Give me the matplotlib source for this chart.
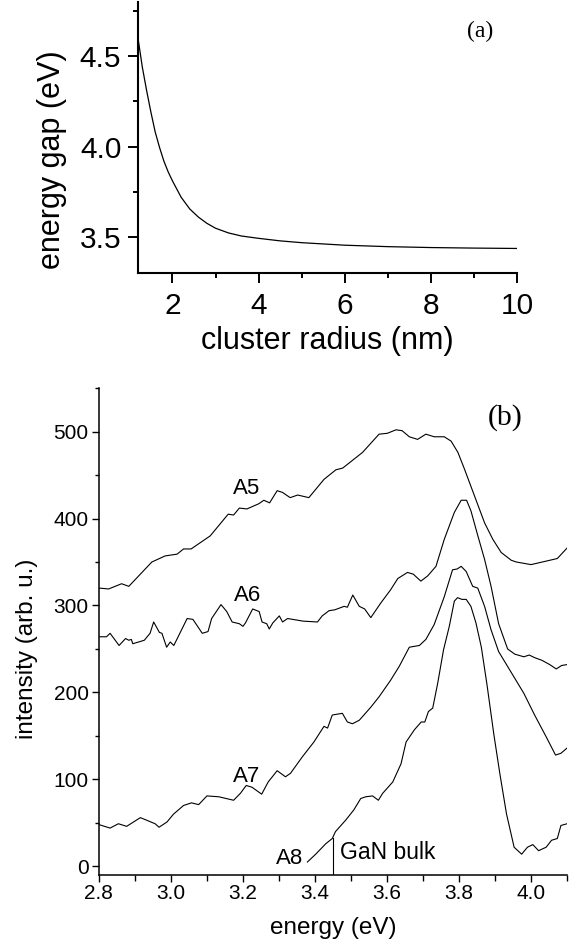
#!/usr/bin/env python3
"""
Energy gap vs. cluster radius (a) and PL spectra of samples A5-A8 (b)
"""
import matplotlib
matplotlib.use('Agg')
import matplotlib.pyplot as plt
from matplotlib.ticker import MultipleLocator, FormatStrFormatter

plt.rcParams['font.family'] = ['Liberation Sans', 'DejaVu Sans']

# (a) energy gap curve
radius = [1.2, 1.25, 1.3, 1.4, 1.5, 1.6, 1.7, 1.8, 1.9, 2.0, 2.2, 2.4, 2.6, 2.8,
          3.0, 3.3, 3.6, 4.0, 4.5, 5.0, 6.0, 7.0, 8.0, 9.0, 10.0]
gap = [4.60, 4.52, 4.44, 4.31, 4.19, 4.08, 3.995, 3.92, 3.86, 3.81, 3.72, 3.655,
       3.61, 3.575, 3.548, 3.522, 3.505, 3.492, 3.478, 3.468, 3.454, 3.446,
       3.441, 3.438, 3.436]

# (b) spectra
a5_e = [2.800, 2.827, 2.863, 2.883, 2.947, 2.984, 3.017, 3.035, 3.056, 3.109,
        3.137, 3.159, 3.174, 3.190, 3.211, 3.244, 3.258, 3.274, 3.295, 3.310,
        3.331, 3.352, 3.383, 3.425, 3.458, 3.477, 3.532, 3.578, 3.601, 3.625,
        3.642, 3.662, 3.685, 3.708, 3.731, 3.759, 3.778, 3.797, 3.815, 3.843,
        3.871, 3.894, 3.917, 3.945, 3.959, 4.000, 4.042, 4.073, 4.100]
a5_i = [320, 319, 325, 322, 350, 357, 359, 365, 365, 380,
        394, 405, 404, 412, 411, 417, 421, 418, 432, 430,
        424, 427, 424, 445, 456, 458, 476, 497, 498, 502,
        501, 494, 491, 497, 494, 494, 489, 476, 457, 426,
        395, 376, 361, 352, 350, 347, 351, 354, 366]

a6_e = [2.800, 2.821, 2.831, 2.856, 2.874, 2.883, 2.890, 2.894, 2.926, 2.942,
        2.952, 2.968, 2.975, 2.988, 2.998, 3.008, 3.045, 3.061, 3.087, 3.103,
        3.113, 3.139, 3.155, 3.170, 3.190, 3.200, 3.207, 3.227, 3.245, 3.253,
        3.266, 3.273, 3.283, 3.301, 3.310, 3.324, 3.367, 3.407, 3.420, 3.439,
        3.455, 3.481, 3.490, 3.505, 3.523, 3.538, 3.555, 3.583, 3.610, 3.630,
        3.657, 3.673, 3.694, 3.713, 3.736, 3.759, 3.787, 3.806, 3.821, 3.833,
        3.851, 3.871, 3.889, 3.910, 3.935, 3.955, 3.980, 3.995, 4.010, 4.030,
        4.052, 4.070, 4.085, 4.100]
a6_i = [264, 264, 268, 254, 262, 260, 261, 256, 260, 268,
        281, 269, 268, 252, 258, 254, 285, 284, 268, 270,
        285, 301, 293, 281, 279, 276, 280, 296, 293, 281,
        279, 273, 280, 288, 281, 285, 282, 281, 288, 294,
        295, 299, 298, 312, 299, 296, 286, 303, 318, 331,
        338, 336, 328, 334, 345, 376, 407, 421, 421, 409,
        382, 353, 322, 279, 250, 244, 241, 243, 240, 237,
        232, 227, 231, 232]

a7_e = [2.800, 2.831, 2.854, 2.877, 2.915, 2.933, 2.956, 2.967, 2.989, 3.007,
        3.035, 3.057, 3.077, 3.100, 3.133, 3.174, 3.193, 3.209, 3.225, 3.252,
        3.270, 3.295, 3.318, 3.332, 3.365, 3.397, 3.425, 3.435, 3.448, 3.476,
        3.490, 3.504, 3.523, 3.555, 3.578, 3.610, 3.634, 3.662, 3.690, 3.708,
        3.731, 3.759, 3.782, 3.795, 3.806, 3.820, 3.838, 3.852, 3.871, 3.889,
        3.910, 3.980, 4.010, 4.042, 4.068, 4.083, 4.100]
a7_i = [48, 44, 49, 46, 56, 53, 49, 45, 51, 60,
        70, 73, 71, 81, 80, 76, 84, 93, 91, 83,
        97, 110, 103, 107, 126, 143, 161, 159, 174, 176,
        166, 164, 168, 183, 195, 214, 230, 252, 254, 261,
        278, 310, 341, 342, 345, 339, 322, 320, 299, 272,
        247, 199, 174, 149, 128, 130, 136]

a8_e = [3.379, 3.402, 3.430, 3.448, 3.457, 3.485, 3.508, 3.527, 3.541, 3.560,
        3.576, 3.588, 3.616, 3.639, 3.653, 3.676, 3.695, 3.705, 3.715, 3.727,
        3.741, 3.757, 3.773, 3.787, 3.796, 3.808, 3.820, 3.833, 3.847, 3.862,
        3.878, 3.897, 3.914, 3.932, 3.942, 3.953, 3.974, 3.990, 4.005, 4.021,
        4.042, 4.057, 4.073, 4.083, 4.100]
a8_i = [5, 14, 26, 32, 40, 53, 65, 78, 80, 81,
        76, 84, 97, 118, 143, 157, 166, 166, 178, 182,
        211, 249, 276, 305, 309, 307, 307, 299, 280, 252,
        208, 151, 105, 60, 42, 22, 14, 22, 25, 18,
        22, 30, 32, 47, 49]

sample_labels = ['A5', 'A6', 'A7', 'A8']
label_e = [3.211, 3.214, 3.211, 3.330]
label_i = [428, 305, 97, 3]

gan_bulk_e = 3.45
gan_bulk_top = 33

fig = plt.figure(figsize=(5.85, 9.5), dpi=100)

# ---- panel (a)
ax_a = fig.add_axes([0.2359, 0.7126, 0.6479, 0.2853])
ax_a.plot(radius, gap, color='black', linewidth=0.9)
ax_a.set_xlim(1.2, 10)
ax_a.set_ylim(3.3, 4.8)
ax_a.xaxis.set_major_locator(MultipleLocator(2))
ax_a.xaxis.set_minor_locator(MultipleLocator(1))
ax_a.yaxis.set_major_locator(MultipleLocator(0.5))
ax_a.yaxis.set_minor_locator(MultipleLocator(0.25))
ax_a.yaxis.set_major_formatter(FormatStrFormatter('%.1f'))
ax_a.spines['top'].set_visible(False)
ax_a.spines['right'].set_visible(False)
for s in ('left', 'bottom'):
    ax_a.spines[s].set_linewidth(1.5)
ax_a.tick_params(which='major', direction='out', length=7.5, width=1.4, labelsize=21.5)
ax_a.tick_params(which='minor', direction='out', length=3.8, width=1.4)
ax_a.tick_params(axis='x', which='major', pad=6)
ax_a.tick_params(axis='y', which='major', pad=4.5)
ax_a.set_xlabel('cluster radius (nm)', fontsize=22)
ax_a.set_ylabel('energy gap (eV)', fontsize=22)
ax_a.xaxis.set_label_coords(0.5, -0.196)
ax_a.yaxis.set_label_coords(-0.187, 0.42)
ax_a.text(9.14, 4.635, '(a)', fontsize=17, family=['Liberation Serif', 'DejaVu Serif'],
          ha='center', va='center')

# ---- panel (b)
ax_b = fig.add_axes([0.1691, 0.0789, 0.8002, 0.5126])
for e, i in ((a5_e, a5_i), (a6_e, a6_i), (a7_e, a7_i), (a8_e, a8_i)):
    ax_b.plot(e, i, color='black', linewidth=0.8)
ax_b.plot([gan_bulk_e, gan_bulk_e], [-10, gan_bulk_top], color='black', linewidth=0.8)

for name, x, y in zip(sample_labels, label_e, label_i):
    ax_b.text(x, y, name, fontsize=16, ha='center', va='baseline')
ax_b.text(3.470, 8, 'GaN bulk', fontsize=16.5, ha='left', va='baseline')
ax_b.text(3.929, 516, '(b)', fontsize=21.5, family=['Liberation Serif', 'DejaVu Serif'],
          ha='center', va='center')

ax_b.set_xlim(2.8, 4.1)
ax_b.set_ylim(-10, 550)
ax_b.xaxis.set_major_locator(MultipleLocator(0.2))
ax_b.xaxis.set_minor_locator(MultipleLocator(0.1))
ax_b.xaxis.set_major_formatter(FormatStrFormatter('%.1f'))
ax_b.yaxis.set_major_locator(MultipleLocator(100))
ax_b.yaxis.set_minor_locator(MultipleLocator(50))
ax_b.spines['top'].set_visible(False)
ax_b.spines['right'].set_visible(False)
for s in ('left', 'bottom'):
    ax_b.spines[s].set_linewidth(1.1)
ax_b.tick_params(which='major', direction='out', length=5, width=1.0, labelsize=15)
ax_b.tick_params(which='minor', direction='out', length=2.8, width=1.0)
ax_b.tick_params(axis='x', which='minor', length=4)
ax_b.tick_params(axis='x', which='major', pad=1.5)
ax_b.tick_params(axis='y', which='major', pad=2.5)
ax_b.set_xlabel('energy (eV)', fontsize=17.5)
ax_b.set_ylabel('intensity (arb. u.)', fontsize=17.5)
ax_b.xaxis.set_label_coords(0.5, -0.0856)
ax_b.yaxis.set_label_coords(-0.130, 0.464)

plt.savefig('out.png', dpi=100)
plt.close()
